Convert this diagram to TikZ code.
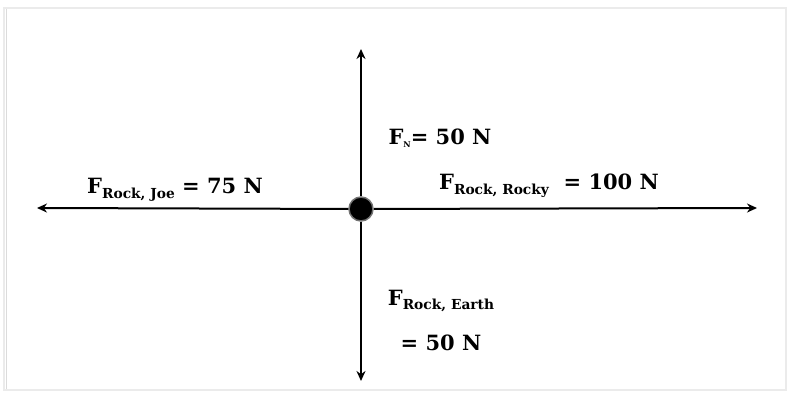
\documentclass[tikz,border=0pt]{standalone}
\usepackage{fontspec}
\setmainfont{DejaVu Serif}
\usetikzlibrary{arrows.meta}
\newcommand{\sbs}[1]{\raisebox{-0.45ex}{\fontsize{13.8}{14}\selectfont #1}}
\begin{document}
\begin{tikzpicture}[x=1pt,y=-1pt,
  force/.style={line width=2pt,-{Stealth[length=10pt,width=9pt]}},
  lbl/.style={font=\fontsize{21}{23}\selectfont\bfseries,inner sep=0pt,anchor=center}]
\useasboundingbox (0,0) rectangle (788,393);
\fill[white] (0,0) rectangle (788,393);
\draw[line width=2pt,black!8] (4,8) -- (786,8) -- (786,390) -- (4,390) -- cycle;
\draw[line width=1pt,black!14] (6,9) -- (6,389);
\coordinate (l) at (37,208);
\coordinate (r) at (757,208);
\coordinate (t) at (361,49);
\coordinate (b) at (361,381);
\node[circle,fill=black,draw=black!55,line width=1.5pt,minimum size=24pt,inner sep=0pt] (c) at (361,209) {};
\draw[force] (c) -- (l);
\draw[force] (c) -- (r);
\draw[force] (c) -- (t);
\draw[force] (c) -- (b);
\node[lbl] (fn) at (440,138) {F\raisebox{-0.3ex}{\fontsize{8}{8}\selectfont N}= 50 N};
\node[lbl] (fj) at (175,190) {F\sbs{Rock, Joe} = 75 N};
\node[lbl] (fr) at (549,186) {F\sbs{Rock, Rocky}\ \ = 100 N};
\node[lbl] (fe) at (441,301) {F\sbs{Rock, Earth}};
\node[lbl] (fe2) at (441,343) {= 50 N};
\end{tikzpicture}
\end{document}
